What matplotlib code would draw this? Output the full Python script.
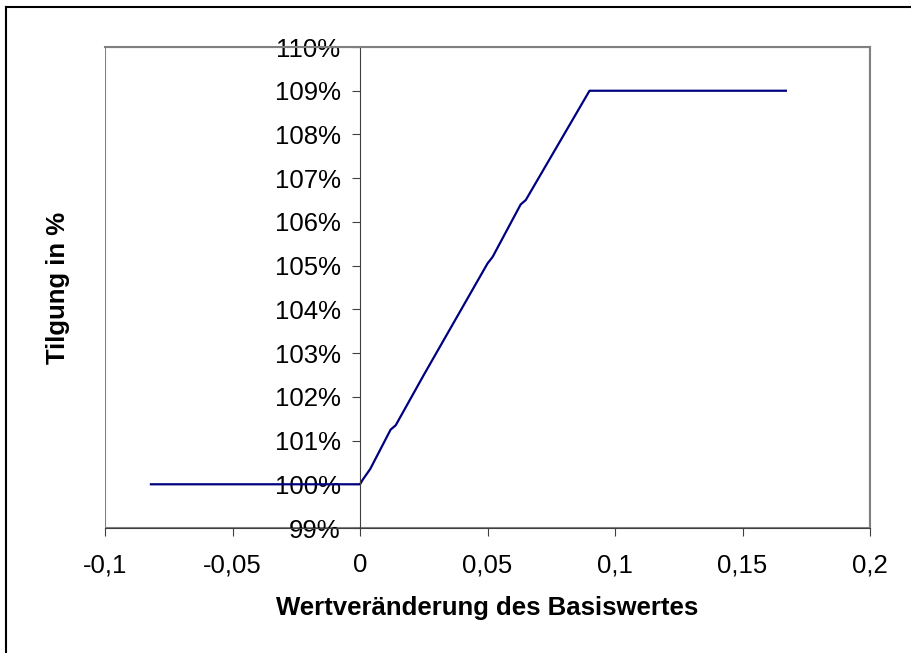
import matplotlib.pyplot as plt
from matplotlib.ticker import FuncFormatter
from matplotlib.patches import Rectangle
from matplotlib.lines import Line2D

plt.rcParams['font.family'] = ['Liberation Sans', 'DejaVu Sans']

# data
x_vals = [-0.082, 0, 0.001, 0.004, 0.012, 0.014, 0.025, 0.05, 0.052, 0.063, 0.065, 0.088, 0.09, 0.167]
y_vals = [100, 100, 100.1, 100.35, 101.25, 101.35, 102.5, 105.05, 105.2, 106.4, 106.5, 108.8, 109, 109]
x_ticks = [-0.1, -0.05, 0, 0.05, 0.1, 0.15, 0.2]
y_ticks = list(range(99, 111))

fig = plt.figure(figsize=(9.11, 6.53), dpi=100)
ax = fig.add_axes([0.1153, 0.1914, 0.8397, 0.7366])

ax.plot(x_vals, y_vals, color='#000080', linewidth=1.6)

ax.set_xlim(-0.1, 0.2)
ax.set_ylim(99, 110)
ax.set_xticks(x_ticks)
ax.set_yticks(y_ticks)

ax.xaxis.set_major_formatter(FuncFormatter(lambda v, p: ('%g' % round(v, 3)).replace('.', ',')))
ax.yaxis.set_major_formatter(FuncFormatter(lambda v, p: '%d%%' % round(v)))

# y axis sits at x=0
ax.spines['left'].set_position(('data', 0))
ax.spines['left'].set_color('#404040')
ax.spines['bottom'].set_color('#404040')
ax.spines['top'].set_color('#808080')
ax.spines['right'].set_color('#808080')
ax.spines['top'].set_linewidth(1.5)
ax.spines['right'].set_linewidth(1.5)
ax.add_patch(Rectangle((0, 0), 1, 1, transform=ax.transAxes, fill=False,
                       edgecolor='#808080', linewidth=1.5, zorder=0))

ax.tick_params(axis='both', direction='out', length=6, color='#404040', labelsize=18.5)
ax.tick_params(axis='x', pad=12)
ax.tick_params(axis='y', pad=8)

ax.set_xlabel('Wertveränderung des Basiswertes', fontsize=18.5, fontweight='bold', labelpad=14)
ax.set_ylabel('Tilgung in %', fontsize=18.5, fontweight='bold')
ax.yaxis.set_label_coords(-0.046, 0.5, transform=ax.transAxes)

# outer frame (only left and top visible)
fig.add_artist(Line2D([0.0066, 0.0066], [0, 0.989], color='black', linewidth=1.5))
fig.add_artist(Line2D([0.0066, 1], [0.989, 0.989], color='black', linewidth=1.5))

fig.savefig('out.png', dpi=100)
